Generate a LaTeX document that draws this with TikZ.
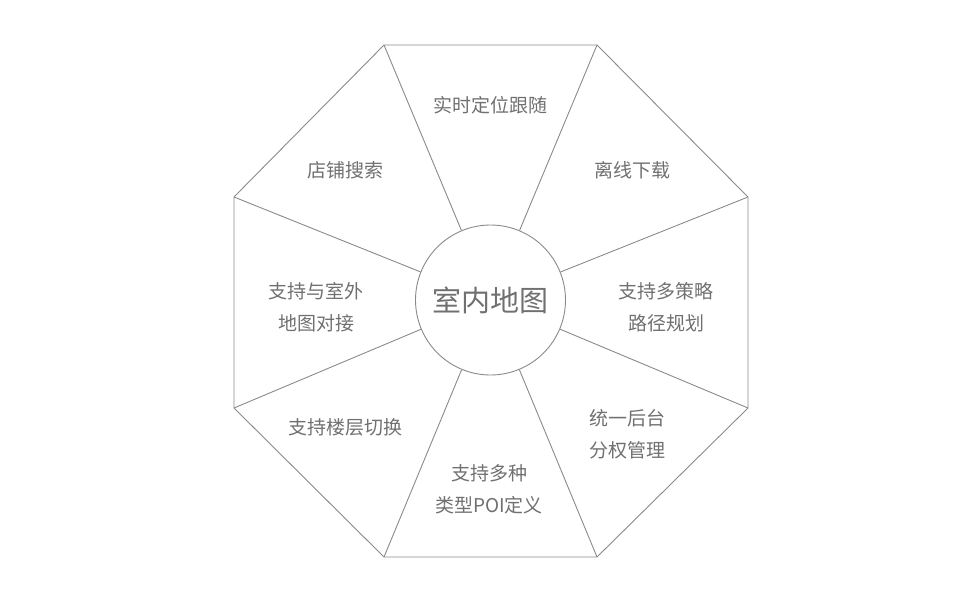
\documentclass[tikz,border=0pt]{standalone}
\usepackage{fontspec}
\newfontfamily\cjk{Noto Sans CJK SC}
\definecolor{edge}{HTML}{8A8A8A}
\definecolor{txt}{HTML}{707070}
\begin{document}
\begin{tikzpicture}[x=1pt,y=-1pt,
  seg/.style={draw=edge,line width=0.9pt},
  lbl/.style={font=\cjk\fontsize{19}{32}\selectfont,text=txt,align=center,inner sep=0pt},
  hub/.style={circle,draw=edge,line width=0.9pt,minimum size=150pt,inner sep=0pt,font=\cjk\fontsize{29}{34}\selectfont,text=txt}]
\useasboundingbox (0,0) rectangle (980,600);
\coordinate (v1) at (384,45);
\coordinate (v2) at (597,45);
\coordinate (v3) at (748,197);
\coordinate (v4) at (748,408);
\coordinate (v5) at (597,557);
\coordinate (v6) at (384,557);
\coordinate (v7) at (234,408);
\coordinate (v8) at (234,197);
\draw[seg] (v1) -- (v2) -- (v3) -- (v4) -- (v5) -- (v6) -- (v7) -- (v8) -- cycle;
\node[hub] (c) at (490.5,300) {室内地图};
\foreach \v in {v1,v2,v3,v4,v5,v6,v7,v8} \draw[seg] (c) -- (\v);
\node[lbl] (t1) at (490,105) {实时定位跟随};
\node[lbl] (t2) at (632,170) {离线下载};
\node[lbl] (t3) at (666,307) {支持多策略\\路径规划};
\node[lbl] (t4) at (627,434) {统一后台\\分权管理};
\node[lbl] (t5) at (489,489) {支持多种\\类型POI定义};
\node[lbl] (t6) at (345,427) {支持楼层切换};
\node[lbl] (t7) at (316,307) {支持与室外\\地图对接};
\node[lbl] (t8) at (345,170) {店铺搜索};
\end{tikzpicture}
\end{document}
